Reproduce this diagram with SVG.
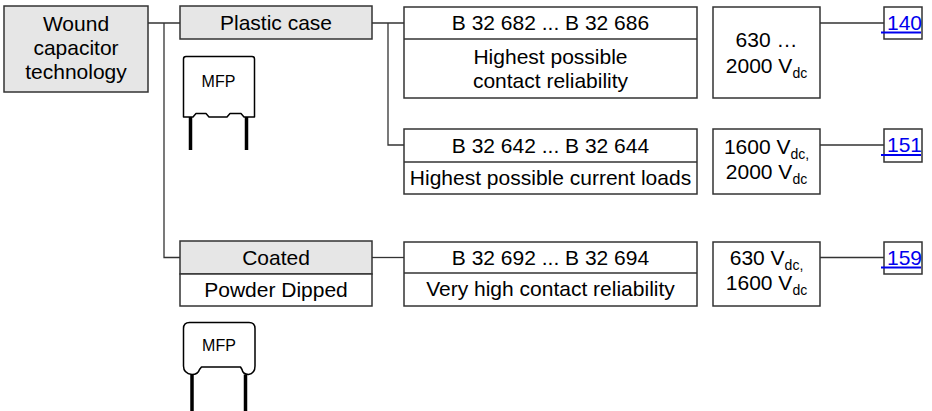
<svg xmlns="http://www.w3.org/2000/svg" width="932" height="411" viewBox="0 0 932 411">
  <style>
    .box { fill: #ffffff; stroke: #333333; stroke-width: 1.5; }
    .grey { fill: #e6e6e6; stroke: #333333; stroke-width: 1.5; }
    .wire { fill: none; stroke: #333333; stroke-width: 1.3; }
    .t { font-family: "Liberation Sans", Arial, sans-serif; font-size: 21px; fill: #000000; text-anchor: middle; }
    .sub { font-size: 14px; }
    .lnk { font-family: "Liberation Sans", Arial, sans-serif; font-size: 21px; fill: #0000ee; }
    .ul { fill: #0000ee; }
    .cap { fill: #ffffff; stroke: #000000; stroke-width: 1.5; stroke-linejoin: round; }
    .leg { stroke: #000000; stroke-width: 3.5; }
    .mfp { font-family: "Liberation Sans", Arial, sans-serif; font-size: 16px; fill: #000000; text-anchor: middle; }
  </style>

  <!-- connectors -->
  <g id="connectors">
    <path class="wire" d="M148,23 H180 M164,23 V257.5 H180"/>
    <path class="wire" d="M372,23 H404 M388,23 V145 H404"/>
    <path class="wire" d="M372,257.5 H404"/>
    <path class="wire" d="M820,23 H884 M820,145 H884 M820,257.5 H884"/>
  </g>

  <!-- root -->
  <g id="wound">
    <rect class="grey" x="4" y="6" width="144" height="86"/>
    <text class="t" x="76" y="31">Wound</text>
    <text class="t" x="76" y="55">capacitor</text>
    <text class="t" x="76" y="79">technology</text>
  </g>

  <!-- plastic case branch -->
  <g id="plastic-case">
    <rect class="grey" x="180" y="6" width="192" height="33"/>
    <text class="t" x="276" y="30">Plastic case</text>
  </g>

  <g id="mfp-boxed">
    <path class="cap" d="M183.5,59 Q183.5,56.5 186,56.5 L252,56.5 Q254.5,56.5 254.5,59 L254.5,117 L244,117 L241,113.5 L230,113.5 L227,117 L209,117 L206,113.5 L196,113.5 L193,117 L183.5,117 Z"/>
    <line class="leg" x1="190.5" y1="117" x2="190.5" y2="150"/>
    <line class="leg" x1="246.5" y1="117" x2="246.5" y2="150"/>
    <text class="mfp" x="218.5" y="86.5">MFP</text>
  </g>

  <!-- coated branch -->
  <g id="coated">
    <rect class="grey" x="180" y="241" width="192" height="33"/>
    <rect class="box" x="180" y="274" width="192" height="32"/>
    <text class="t" x="276" y="265">Coated</text>
    <text class="t" x="276" y="297">Powder Dipped</text>
  </g>

  <g id="mfp-dipped">
    <path class="cap" d="M183.5,328.5 Q183.5,322.5 189.5,322.5 L249,322.5 Q255,322.5 255,328.5 L255,366 Q255,373.5 248.5,374.5 Q243,374.5 242,369.5 L240.5,367 L201.5,367 L199.5,369.5 Q198,374.5 192,374.5 Q183.5,373.5 183.5,366 Z"/>
    <line class="leg" x1="192" y1="374.5" x2="192" y2="411"/>
    <line class="leg" x1="245.5" y1="374.5" x2="245.5" y2="411"/>
    <text class="mfp" x="219" y="351">MFP</text>
  </g>

  <!-- series B 32 682 ... B 32 686 -->
  <g id="b32682">
    <rect class="box" x="404" y="7" width="293" height="91"/>
    <line class="wire" x1="404" y1="39" x2="697" y2="39" style="stroke-width:1.5"/>
    <text class="t" x="550.5" y="30">B 32 682 ... B 32 686</text>
    <text class="t" x="550.5" y="63.5">Highest possible</text>
    <text class="t" x="550.5" y="87.5">contact reliability</text>
  </g>
  <g id="v-b32682">
    <rect class="box" x="713" y="7" width="107" height="91"/>
    <text class="t" x="766.5" y="46.5">630 …</text>
    <text class="t" x="766.5" y="72.5">2000 V<tspan class="sub" dy="5">dc</tspan></text>
  </g>
  <g id="p140">
    <rect class="box" x="884" y="7" width="38" height="32"/>
    <text class="lnk" x="887" y="29.5">140</text>
    <rect class="ul" x="881" y="31.5" width="40" height="2"/>
  </g>

  <!-- series B 32 642 ... B 32 644 -->
  <g id="b32642">
    <rect class="box" x="404" y="129" width="293" height="65"/>
    <line class="wire" x1="404" y1="162" x2="697" y2="162" style="stroke-width:1.5"/>
    <text class="t" x="550.5" y="153">B 32 642 ... B 32 644</text>
    <text class="t" x="550.5" y="185">Highest possible current loads</text>
  </g>
  <g id="v-b32642">
    <rect class="box" x="713" y="129" width="107" height="65"/>
    <text class="t" x="766.5" y="154">1600 V<tspan class="sub" dy="5">dc,</tspan></text>
    <text class="t" x="766.5" y="179">2000 V<tspan class="sub" dy="5">dc</tspan></text>
  </g>
  <g id="p151">
    <rect class="box" x="884" y="129" width="38" height="33"/>
    <text class="lnk" x="887" y="152">151</text>
    <rect class="ul" x="881" y="154" width="40" height="2"/>
  </g>

  <!-- series B 32 692 ... B 32 694 -->
  <g id="b32692">
    <rect class="box" x="404" y="242" width="293" height="64"/>
    <line class="wire" x1="404" y1="273" x2="697" y2="273" style="stroke-width:1.5"/>
    <text class="t" x="550.5" y="265">B 32 692 ... B 32 694</text>
    <text class="t" x="550.5" y="296">Very high contact reliability</text>
  </g>
  <g id="v-b32692">
    <rect class="box" x="713" y="242" width="107" height="64"/>
    <text class="t" x="766.5" y="265">630 V<tspan class="sub" dy="5">dc,</tspan></text>
    <text class="t" x="766.5" y="290">1600 V<tspan class="sub" dy="5">dc</tspan></text>
  </g>
  <g id="p159">
    <rect class="box" x="884" y="242" width="38" height="32"/>
    <text class="lnk" x="887" y="264.5">159</text>
    <rect class="ul" x="881" y="266.5" width="40" height="2"/>
  </g>
</svg>
